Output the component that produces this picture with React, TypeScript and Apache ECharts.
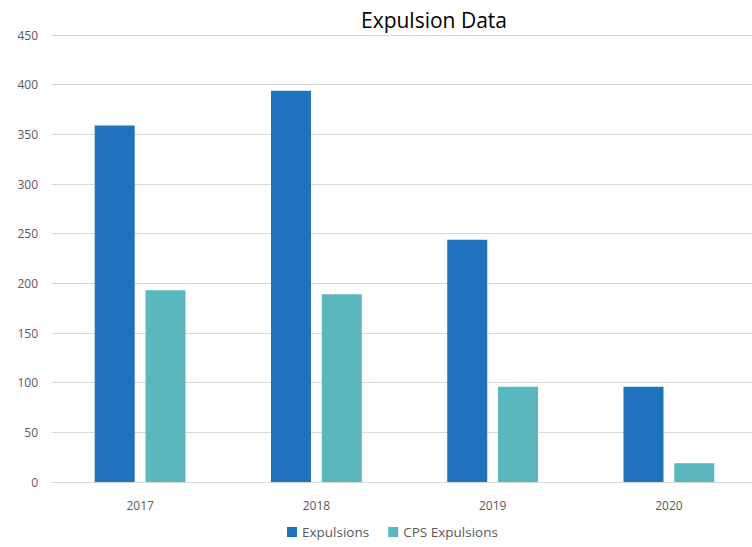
import React, { useEffect, useRef } from "react";
import * as echarts from "echarts";

const categories = ["2017", "2018", "2019", "2020"];
const expulsions = [359, 394, 244, 96];
const cpsExpulsions = [193, 189, 96, 19];
const seriesNames = ["Expulsions", "CPS Expulsions"];

export default function App() {
  const ref = useRef<HTMLDivElement>(null);
  useEffect(() => {
    const chart = echarts.init(ref.current!, null, { renderer: "svg" });
    chart.setOption({
      animation: false,
      textStyle: { fontFamily: "Open Sans" },
      title: {
        text: "Expulsion Data",
        left: 429,
        textAlign: "center",
        top: 4,
        textStyle: { fontSize: 21, fontWeight: "normal", color: "#000", fontFamily: "Open Sans" },
      },
      legend: {
        bottom: 3,
        left: 282,
        itemWidth: 10,
        itemHeight: 10,
        itemGap: 19,
        icon: "rect",
        textStyle: { color: "#595959", fontSize: 13.5 },
        data: seriesNames,
      },
      grid: { left: 52, top: 35, width: 705, bottom: 65, containLabel: false },
      xAxis: {
        type: "category",
        data: categories,
        axisLine: { lineStyle: { color: "#D9D9D9" } },
        axisTick: { show: false },
        axisLabel: { color: "#595959", fontSize: 12, margin: 17 },
      },
      yAxis: {
        type: "value",
        min: 0,
        max: 450,
        interval: 50,
        axisLine: { show: false },
        axisTick: { show: false },
        splitLine: { lineStyle: { color: "#D9D9D9" } },
        axisLabel: { color: "#595959", fontSize: 12, margin: 14 },
      },
      series: [
        {
          name: seriesNames[0],
          type: "bar",
          data: expulsions,
          barWidth: 40,
          barGap: "27%",
          itemStyle: { color: "#1F73BC" },
        },
        {
          name: seriesNames[1],
          type: "bar",
          data: cpsExpulsions,
          barWidth: 40,
          barGap: "27%",
          itemStyle: { color: "#5AB6BF" },
        },
      ],
    });
    return () => chart.dispose();
  }, []);
  return (
    <div
      style={{ position: "absolute", left: 0, top: 0, width: 752, height: 547, overflow: "hidden", background: "#fff" }}
    >
      <div ref={ref} style={{ width: 762, height: 547 }} />
    </div>
  );
}
